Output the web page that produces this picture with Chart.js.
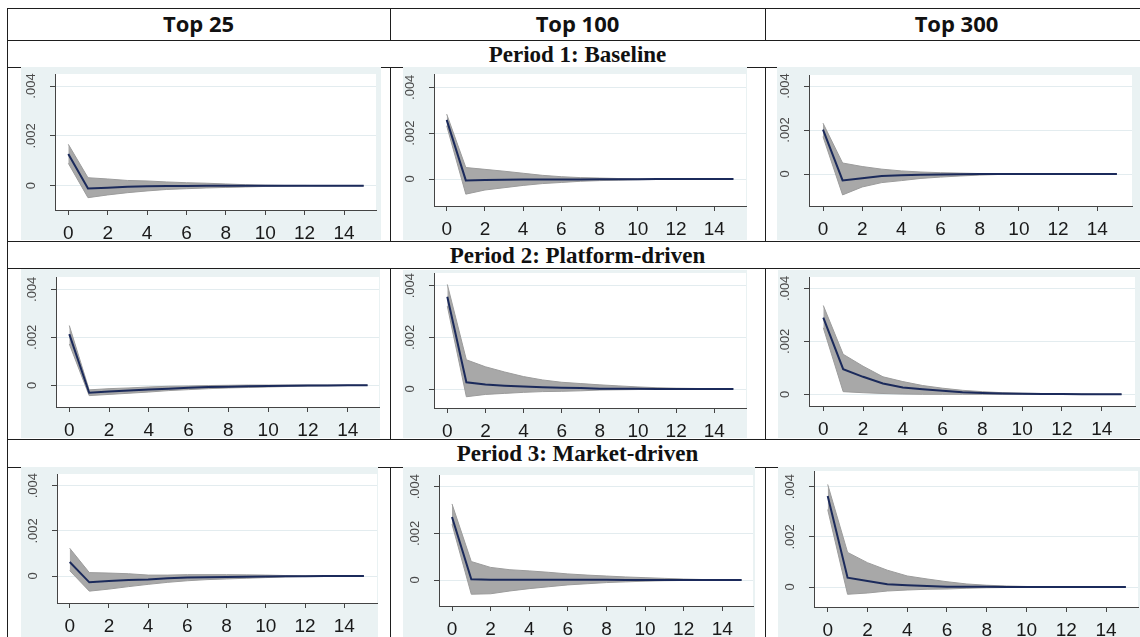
<!DOCTYPE html>
<html><head><meta charset="utf-8">
<script src="https://cdn.jsdelivr.net/npm/chart.js@4.4.1/dist/chart.umd.min.js"></script>
<style>
html,body{margin:0;padding:0;background:#fff;}
body{width:1140px;height:637px;overflow:hidden;position:relative;}
.hl{position:absolute;height:1px;background:#1e1e1e;}
.vl{position:absolute;width:1px;background:#1e1e1e;}
.hdr{position:absolute;top:7px;height:32px;line-height:32px;font-family:'Open Sans',sans-serif;font-weight:700;font-size:22px;text-align:center;color:#111;}
.per{position:absolute;left:7px;width:1141px;height:27px;line-height:27px;font-family:'Liberation Serif',serif;font-weight:700;font-size:23px;text-align:center;color:#111;}
canvas{position:absolute;}
</style></head>
<body>
<div id="frame"></div>
<script>
// ---------- data ----------
const steps = [0,1,2,3,4,5,6,7,8,9,10,11,12,13,14,15];
const xTickValues = [0,2,4,6,8,10,12,14];
const yTickValues = [0, 0.002, 0.004];
const yTickLabels = ['0', '.002', '.004'];
const columnTitles = ['Top 25', 'Top 100', 'Top 300'];
const periodTitles = ['Period 1: Baseline', 'Period 2: Platform-driven', 'Period 3: Market-driven'];

// Period 1, Top 25
const p1t25Irf = [0.00127,-0.00011,-0.00008,-0.00004,-0.00002,-0.00001,-0.00001,0,0,0,0,0,0,0,0,0];
const p1t25Hi  = [0.00166,0.00032,0.00027,0.00021,0.00019,0.00015,0.00012,0.00010,0.00007,0.00004,0.00002,0.00001,0.00001,0,0,0];
const p1t25Lo  = [0.00090,-0.00048,-0.00037,-0.00028,-0.00021,-0.00015,-0.00012,-0.00009,-0.00007,-0.00005,-0.00003,-0.00002,-0.00001,-0.00001,0,0];
// Period 1, Top 100
const p1t100Irf = [0.00258,-0.00006,-0.00004,-0.00003,-0.00002,-0.00002,-0.00002,-0.00002,-0.00001,-0.00001,-0.00001,0,0,0,0,0];
const p1t100Hi  = [0.00283,0.00050,0.00042,0.00034,0.00025,0.00016,0.00010,0.00006,0.00004,0.00002,0.00001,0,0,0,0,0];
const p1t100Lo  = [0.00232,-0.00066,-0.00048,-0.00038,-0.00028,-0.00020,-0.00015,-0.00010,-0.00007,-0.00005,-0.00003,-0.00002,-0.00001,0,0,0];
// Period 1, Top 300
const p1t300Irf = [0.00202,-0.00029,-0.00019,-0.00009,-0.00006,-0.00003,-0.00002,-0.00001,0,0,0,0,0,0,0,0];
const p1t300Hi  = [0.00231,0.00050,0.00034,0.00022,0.00014,0.00009,0.00006,0.00004,0.00002,0.00001,0,0,0,0,0,0];
const p1t300Lo  = [0.00170,-0.00095,-0.00059,-0.00039,-0.00030,-0.00020,-0.00014,-0.00009,-0.00005,-0.00002,-0.00001,0,0,0,0,0];
// Period 2, Top 25
const p2t25Irf = [0.00213,-0.00031,-0.00026,-0.00022,-0.00018,-0.00014,-0.00010,-0.00007,-0.00006,-0.00004,-0.00003,-0.00002,-0.00001,-0.00001,0,0];
const p2t25Hi  = [0.00249,-0.00019,-0.00014,-0.00011,-0.00007,-0.00004,-0.00003,-0.00001,0,0.00001,0.00001,0.00001,0.00001,0.00001,0.00001,0];
const p2t25Lo  = [0.00172,-0.00043,-0.00038,-0.00033,-0.00028,-0.00022,-0.00018,-0.00014,-0.00011,-0.00009,-0.00007,-0.00005,-0.00003,-0.00002,-0.00001,0];
// Period 2, Top 100
const p2t100Irf = [0.00357,0.00026,0.00017,0.00013,0.00010,0.00007,0.00005,0.00004,0.00001,0.00001,0.00001,0,0,0,0,0];
const p2t100Hi  = [0.00405,0.00113,0.00086,0.00066,0.00048,0.00035,0.00026,0.00021,0.00016,0.00012,0.00008,0.00005,0.00003,0.00002,0.00001,0];
const p2t100Lo  = [0.00321,-0.00030,-0.00021,-0.00017,-0.00013,-0.00010,-0.00009,-0.00007,-0.00004,-0.00003,-0.00002,-0.00001,-0.00001,0,0,0];
// Period 2, Top 300
const p2t300Irf = [0.00289,0.00095,0.00066,0.00041,0.00026,0.00019,0.00013,0.00008,0.00005,0.00003,0.00002,0.00001,0.00001,0,0,0];
const p2t300Hi  = [0.00335,0.00151,0.00106,0.00066,0.00048,0.00033,0.00023,0.00015,0.00010,0.00006,0.00004,0.00003,0.00002,0.00001,0,0];
const p2t300Lo  = [0.00251,0.00010,0.00006,0.00003,0.00001,0,0,0,0,0,0,0,0,0,0,0];
// Period 3, Top 25
const p3t25Irf = [0.00062,-0.00028,-0.00022,-0.00018,-0.00015,-0.00010,-0.00007,-0.00006,-0.00004,-0.00003,-0.00002,-0.00001,-0.00001,0,0,0];
const p3t25Hi  = [0.00123,0.00015,0.00013,0.00010,0.00004,0.00004,0.00006,0.00006,0.00006,0.00005,0.00004,0.00002,0.00001,0.00001,0,0];
const p3t25Lo  = [0.00024,-0.00067,-0.00058,-0.00047,-0.00037,-0.00028,-0.00021,-0.00016,-0.00013,-0.00010,-0.00007,-0.00004,-0.00002,-0.00001,0,0];
// Period 3, Top 100
const p3t100Irf = [0.00270,0.00003,0.00001,0.00001,0.00001,0.00001,0.00001,0.00001,0.00001,0,0,0,0,0,0,0];
const p3t100Hi  = [0.00326,0.00079,0.00054,0.00044,0.00039,0.00033,0.00026,0.00021,0.00017,0.00013,0.00010,0.00007,0.00004,0.00002,0.00001,0];
const p3t100Lo  = [0.00239,-0.00061,-0.00059,-0.00047,-0.00037,-0.00029,-0.00021,-0.00016,-0.00011,-0.00008,-0.00005,-0.00003,-0.00002,-0.00001,0,0];
// Period 3, Top 300
const p3t300Irf = [0.00363,0.00037,0.00024,0.00011,0.00007,0.00004,0.00001,0.00001,0.00001,0,0,0,0,0,0,0];
const p3t300Hi  = [0.00409,0.00138,0.00097,0.00067,0.00044,0.00032,0.00021,0.00012,0.00007,0.00004,0.00002,0.00001,0,0,0,0];
const p3t300Lo  = [0.00309,-0.00029,-0.00024,-0.00016,-0.00012,-0.00009,-0.00008,-0.00005,-0.00003,-0.00002,-0.00001,0,0,0,0,0];

const panels = [
  [p1t25Irf, p1t25Hi, p1t25Lo], [p1t100Irf, p1t100Hi, p1t100Lo], [p1t300Irf, p1t300Hi, p1t300Lo],
  [p2t25Irf, p2t25Hi, p2t25Lo], [p2t100Irf, p2t100Hi, p2t100Lo], [p2t300Irf, p2t300Hi, p2t300Lo],
  [p3t25Irf, p3t25Hi, p3t25Lo], [p3t100Irf, p3t100Hi, p3t100Lo], [p3t300Irf, p3t300Hi, p3t300Lo]
];

// ---------- layout (pixels) ----------
// canvas x, y, w, h ; plot left, top, right, bottom ; pixel of x=0, x=14 ; pixel of y=0, y=.004
const geom = [
  [21,67,360,173, 55,74,376,210, 68.3,344, 185.7,86],
  [403,67,344,173, 434,74,746,206, 446.7,714.3, 179,87.3],
  [777,67,363,173, 809,75,1132,206, 823,1097.3, 174,86],
  [21,269,359,169, 56,277,379,407, 69.3,347.7, 385.3,289.3],
  [403,270,344,168, 434,273,746,408, 447.3,714.3, 389,285.7],
  [778,270,362,168, 809,277,1135,406, 823.3,1101.7, 394.3,288.3],
  [21,467,357,170, 57,474,377,603, 69.7,344.3, 576,485.7],
  [403,467,352,170, 439,475,753,606, 452,722.3, 580,486.7],
  [778,467,362,170, 814,471,1138,607, 827.7,1106, 587,486.7]
];

// ---------- table frame ----------
const frame = document.getElementById('frame');
function hl(y, x1, x2){const d=document.createElement('div');d.className='hl';d.style.top=y+'px';d.style.left=x1+'px';d.style.width=(x2-x1)+'px';frame.appendChild(d);}
function vl(x, y1, y2){const d=document.createElement('div');d.className='vl';d.style.left=x+'px';d.style.top=y1+'px';d.style.height=(y2-y1)+'px';frame.appendChild(d);}
[8,40,67,241,268,439,467].forEach(y=>hl(y,7,1140));
vl(7,8,637);
[390,765].forEach(x=>{vl(x,8,41);vl(x,67,242);vl(x,268,440);vl(x,467,637);});
const colBounds = [[7,390],[390,765],[765,1148]];
columnTitles.forEach((t,i)=>{const d=document.createElement('div');d.className='hdr';d.textContent=t;d.style.left=colBounds[i][0]+'px';d.style.width=(colBounds[i][1]-colBounds[i][0])+'px';frame.appendChild(d);});
const periodTops = [41,242,440];
periodTitles.forEach((t,i)=>{const d=document.createElement('div');d.className='per';d.textContent=t;d.style.top=periodTops[i]+'px';frame.appendChild(d);});

// ---------- plugins ----------
const bgPlugin = {
  id:'bg',
  beforeDraw(chart){
    const c=chart.ctx, a=chart.chartArea;
    c.save();
    c.fillStyle='#eaf2f3'; c.fillRect(0,0,chart.width,chart.height);
    c.fillStyle='#ffffff'; c.fillRect(a.left,a.top,a.right-a.left,a.bottom-a.top);
    c.restore();
  }
};
const yLabelPlugin = {
  id:'ylab',
  afterDraw(chart){
    const c=chart.ctx, ys=chart.scales.y, a=chart.chartArea;
    c.save();
    c.font='13px "Liberation Sans", Arial, sans-serif';
    c.fillStyle='#4a4a4a';
    c.textAlign='center'; c.textBaseline='middle';
    yTickValues.forEach((v,i)=>{
      const py=ys.getPixelForValue(v);
      c.save(); c.translate(a.left-24, py); c.rotate(-Math.PI/2);
      c.fillText(yTickLabels[i],0,0); c.restore();
    });
    c.restore();
  }
};

// ---------- charts ----------
panels.forEach((p,k)=>{
  const g = geom[k];
  const [cx,cy,cw,ch,L,T,R,B,x0,x14,y0,y4] = g;
  const cv=document.createElement('canvas');
  cv.width=cw; cv.height=ch; cv.style.left=cx+'px'; cv.style.top=cy+'px';
  cv.style.width=cw+'px'; cv.style.height=ch+'px';
  document.body.appendChild(cv);
  const xu=(x14-x0)/14, yu=(y0-y4)/0.004;
  const xmin=-(x0-L)/xu, xmax=14+(R-x14)/xu;
  const ymin=-(B-y0)/yu, ymax=0.004+(y4-T)/yu;
  const [irf,hi,lo]=p;
  const pts=arr=>steps.map((s,i)=>({x:s,y:arr[i]}));
  new Chart(cv.getContext('2d'),{
    type:'line',
    data:{datasets:[
      {data:pts(irf),borderColor:'#1b2a5b',borderWidth:2,fill:false,pointRadius:0,tension:0},
      {data:pts(hi),borderColor:'#9c9c9c',borderWidth:1,backgroundColor:'#a8a8a8',fill:false,pointRadius:0,tension:0},
      {data:pts(lo),borderColor:'#9c9c9c',borderWidth:1,backgroundColor:'#a8a8a8',fill:'-1',pointRadius:0,tension:0}
    ]},
    options:{
      responsive:false,animation:false,devicePixelRatio:1,
      layout:{padding:{left:0,top:T-cy,right:(cx+cw)-R,bottom:0}},
      plugins:{legend:{display:false},tooltip:{enabled:false}},
      scales:{
        x:{type:'linear',min:xmin,max:xmax,
          afterFit(s){s.height=(cy+ch)-B;},
          afterBuildTicks(s){s.ticks=xTickValues.map(v=>({value:v}));},
          ticks:{font:{family:'"Liberation Sans", Arial, sans-serif',size:19},color:'#1a1a1a',padding:7,autoSkip:false,maxRotation:0,callback:v=>String(v)},
          grid:{drawOnChartArea:false,drawTicks:true,tickLength:5,tickColor:'#444',lineWidth:1},
          border:{color:'#444',width:1}},
        y:{type:'linear',min:ymin,max:ymax,
          afterFit(s){s.width=L-cx;},
          afterBuildTicks(s){s.ticks=yTickValues.map(v=>({value:v}));},
          ticks:{display:false},
          grid:{color:'#e3ecef',lineWidth:1,tickLength:5,tickColor:'#444'},
          border:{color:'#444',width:1}}
      }
    },
    plugins:[bgPlugin,yLabelPlugin]
  });
});
</script>
</body></html>
